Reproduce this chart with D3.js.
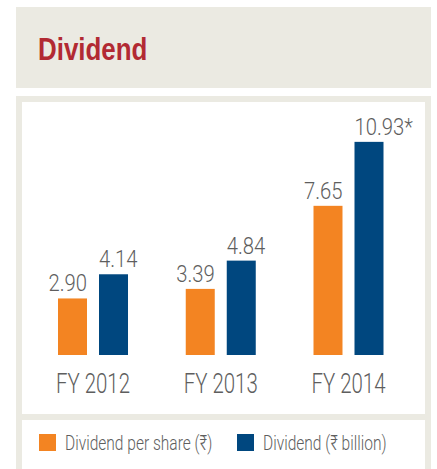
<!DOCTYPE html>
<html>
<head>
<meta charset="utf-8">
<script src="https://cdn.jsdelivr.net/npm/d3@7"></script>
<style>
  html, body { margin: 0; padding: 0; background: #ffffff; }
  svg { display: block; }
</style>
</head>
<body>
<svg id="chart" width="437" height="469"></svg>
<script>
// ---- data ----
const categories = ["FY 2012", "FY 2013", "FY 2014"];
const seriesNames = ["Dividend per share (₹)", "Dividend (₹ billion)"];
const dividendPerShare = [2.90, 3.39, 7.65];
const dividendBillion = [4.14, 4.84, 10.93];
const valueLabelsPerShare = ["2.90", "3.39", "7.65"];
const valueLabelsBillion = ["4.14", "4.84", "10.93*"];
const title = "Dividend";

// ---- styles ----
const colors = ["#f38422", "#00477f"];
const beige = "#ebeae2";
const textGray = "#5e5e5e";
const fontNarrow = "'Liberation Sans Narrow', 'Arial Narrow', 'Liberation Sans', Arial, sans-serif";
const fontLight = "Roboto, 'Liberation Sans', Arial, sans-serif";

const svg = d3.select("#chart");

// panels
svg.append("rect").attr("x", 16).attr("y", 7).attr("width", 415).attr("height", 81).attr("fill", beige);
svg.append("rect").attr("x", 16).attr("y", 96).attr("width", 415).attr("height", 380).attr("fill", beige);
svg.append("rect").attr("x", 22).attr("y", 102).attr("width", 403).attr("height", 312).attr("fill", "#fff");
svg.append("rect").attr("x", 22).attr("y", 420).attr("width", 403).attr("height", 60).attr("fill", "#fff");

// title
svg.append("text")
  .attr("transform", "translate(38,60) scale(0.81,1)")
  .attr("font-family", fontNarrow)
  .attr("font-weight", "bold")
  .attr("font-size", 32)
  .attr("fill", "#b22a33")
  .text(title);

// scales
const x0 = d3.scaleBand().domain(categories).range([58, 383.5]).paddingInner(0.452).paddingOuter(0);
const x1 = d3.scaleBand().domain([0, 1]).range([0, x0.bandwidth()]).paddingInner(0.2927).paddingOuter(0);
const y = d3.scaleLinear().domain([0, 12]).range([355, 121]);

const data = categories.map((c, i) => ({
  cat: c,
  vals: [
    { s: 0, v: dividendPerShare[i], label: valueLabelsPerShare[i] },
    { s: 1, v: dividendBillion[i], label: valueLabelsBillion[i] }
  ]
}));

const g = svg.append("g");
const groups = g.selectAll("g.grp").data(data).join("g")
  .attr("class", "grp")
  .attr("transform", d => `translate(${x0(d.cat)},0)`);

groups.selectAll("rect").data(d => d.vals).join("rect")
  .attr("x", d => x1(d.s))
  .attr("y", d => y(d.v))
  .attr("width", x1.bandwidth())
  .attr("height", d => y(0) - y(d.v))
  .attr("fill", d => colors[d.s]);

groups.selectAll("text.val").data(d => d.vals).join("text")
  .attr("class", "val")
  .attr("transform", d => {
    const tx = d.s === 0 ? x1(d.s) + x1.bandwidth() : x1(d.s);
    return `translate(${tx},${y(d.v) - 7}) scale(0.88,1)`;
  })
  .attr("text-anchor", d => d.s === 0 ? "end" : "start")
  .attr("font-family", fontLight)
  .attr("font-weight", 300)
  .attr("font-size", 23)
  .attr("fill", textGray)
  .text(d => d.label);

// x axis labels (axis without line/ticks)
const xAxis = d3.axisBottom(x0).tickSize(0).tickPadding(0);
const axG = svg.append("g").attr("transform", "translate(0,393)").call(xAxis);
axG.select(".domain").remove();
axG.selectAll(".tick text")
  .attr("y", 0).attr("dy", 0)
  .attr("font-family", fontLight)
  .attr("font-weight", 300)
  .attr("font-size", 28)
  .attr("fill", textGray)
  .attr("transform", "scale(0.73,1)");

// legend
const legendX = [39, 237];
const leg = svg.append("g");
seriesNames.forEach((name, i) => {
  leg.append("rect").attr("x", legendX[i]).attr("y", 434).attr("width", 17).attr("height", 17).attr("fill", colors[i]);
  leg.append("text")
    .attr("transform", `translate(${legendX[i] + 26},450) scale(0.74,1)`)
    .attr("font-family", fontLight)
    .attr("font-weight", 300)
    .attr("font-size", 21)
    .attr("fill", textGray)
    .text(name);
});
</script>
</body>
</html>
